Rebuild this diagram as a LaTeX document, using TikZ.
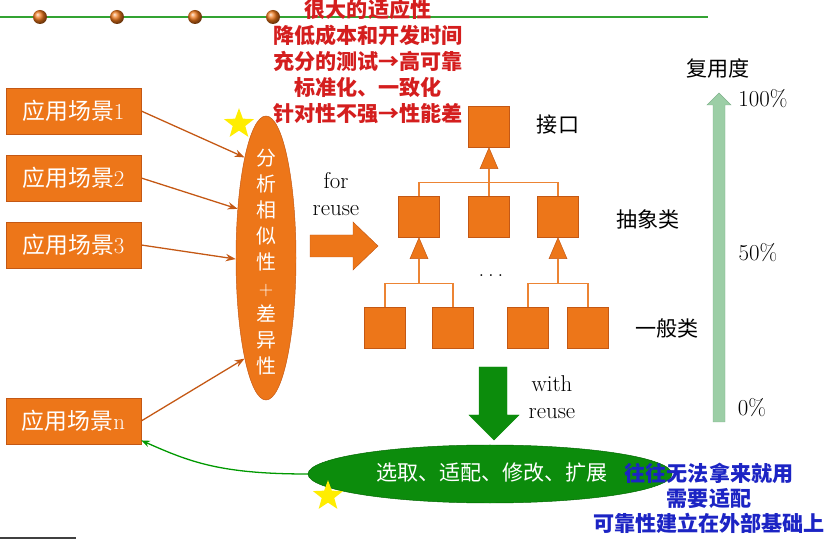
\documentclass[tikz,border=0pt]{standalone}
\usepackage{fontspec}
\newfontfamily\cjk{Noto Sans CJK SC}
\usetikzlibrary{calc,shapes.geometric,arrows.meta}
\definecolor{boxorange}{RGB}{237,118,25}
\definecolor{boxedge}{RGB}{196,88,20}
\definecolor{linkorange}{RGB}{236,132,52}
\definecolor{darkgreen}{RGB}{12,140,12}
\definecolor{palegreen}{RGB}{156,206,166}
\definecolor{paleedge}{RGB}{128,178,140}
\definecolor{redtext}{RGB}{212,30,30}
\definecolor{bluetext}{RGB}{28,36,196}
\def\cjkfont{\cjk\fontsize{18}{22}\selectfont}
\def\latfont{\fontsize{19.5}{22.5}\selectfont}

\begin{document}
\begin{tikzpicture}[x=0.03cm, y=-0.03cm,
    scene/.style={draw=boxedge, fill=boxorange, text=white, minimum width=4.05cm, minimum height=1.38cm, inner sep=0, font=\latfont},
    cls/.style={draw=boxedge, fill=boxorange, minimum size=1.23cm, inner sep=0},
    link/.style={draw=linkorange, line width=1.2pt},
    tri/.style={draw=boxedge, fill=boxorange},
    feed/.style={draw=boxedge, line width=1.1pt, -{Stealth[length=3mm,width=2.2mm]}},
    yellowstar/.style={star, star points=5, star point ratio=2.4, fill=yellow!95!orange, minimum size=0.95cm, inner sep=0},
    lbl/.style={font=\cjkfont}]
    %%%%% START %%%%%
    \useasboundingbox (0,0) rectangle (827,539);

    \draw[draw=green!55!black!80, line width=1pt] (0,17) -- (708,17);
    \foreach \x in {40,117,195,273}
        \shade[ball color=boxorange] (\x,17) circle (0.21cm);

    \node[text=redtext, align=center, font=\cjk\bfseries\fontsize{18}{22.2}\selectfont] (gains) at (368,61)
        {很大的适应性\\降低成本和开发时间\\充分的测试→高可靠\\标准化、一致化\\针对性不强→性能差};

    % application scenarios
    \node[scene] (s1) at (73.5,111) {{\cjk 应用场景}1};
    \node[scene] (s2) at (73.5,178) {{\cjk 应用场景}2};
    \node[scene] (s3) at (73.5,245) {{\cjk 应用场景}3};
    \node[scene] (sn) at (73.5,421) {{\cjk 应用场景}n};

    \node[ellipse, draw=boxedge, fill=boxorange, minimum width=1.8cm, minimum height=8.52cm, inner sep=0] (ana) at (266,258) {};
    \node[text=white, align=center, font=\cjk\fontsize{17}{22.2}\selectfont] (anatext) at (266,262)
        {分\\析\\相\\似\\性\\{\rmfamily +}\\差\\异\\性};
    \node[yellowstar] (star1) at (239,124) {};

    \draw[feed] (s1.east) -- (ana.102);
    \draw[feed] (s2.east) -- (ana.120);
    \draw[feed] (s3.east) -- (ana.182);
    \draw[feed] (sn.east) -- (ana.258);

    % for reuse
    \node[font=\latfont, align=center] (forreuse) at (336,194) {for\\reuse};
    \draw[draw=boxedge, fill=boxorange] (310,235) -- (353,235) -- (353,222) -- (378,246)
        -- (353,270) -- (353,257) -- (310,257) -- cycle;

    % class hierarchy
    \node[cls] (ifc) at (489,127) {};
    \node[cls] (m1) at (419,217) {};
    \node[cls] (m2) at (489,217) {};
    \node[cls] (m3) at (558,217) {};
    \node[cls] (b1) at (385,328) {};
    \node[cls] (b2) at (453,328) {};
    \node[cls] (b3) at (528,328) {};
    \node[cls] (b4) at (588,328) {};

    \draw[link] (m1.north) -- ++(0,-14) -| (m3.north);
    \draw[link] (m2.north) -- ($(ifc.south)+(0,21)$);
    \draw[link] (b1.north) -- ++(0,-24) -| (b2.north);
    \draw[link] (b3.north) -- ++(0,-24) -| (b4.north);
    \draw[link] ($(m1.south)+(0,21)$) -- ($(m1.south)+(0,46)$);
    \draw[link] ($(m3.south)+(0,21)$) -- ($(m3.south)+(0,46)$);
    \foreach \n in {ifc,m1,m3}
        \draw[tri] (\n.south) -- ++(-9,21) -- ++(18,0) -- cycle;

    \node[font=\latfont] (dots) at (491,276) {.\,.\,.};
    \node[lbl] (lifc) at (558,125) {接口};
    \node[lbl] (labs) at (648,219) {抽象类};
    \node[lbl] (lgen) at (667,328) {一般类};

    % reuse scale
    \draw[draw=paleedge, fill=palegreen] (713,422) -- (725,422) -- (725,105) -- (731,105)
        -- (719,93) -- (707,105) -- (713,105) -- cycle;
    \node[lbl] (lscale) at (718,68) {复用度};
    \node[font=\latfont] (p100) at (763,99) {100\%};
    \node[font=\latfont] (p50) at (758,253) {50\%};
    \node[font=\latfont] (p0) at (752,408) {0\%};

    % with reuse
    \draw[draw=darkgreen, fill=darkgreen] (479,367) -- (507,367) -- (507,415) -- (519,415)
        -- (494,440) -- (469,415) -- (479,415) -- cycle;
    \node[font=\latfont, align=center] (withreuse) at (552,397) {with\\reuse};

    \node[ellipse, draw=green!40!black, fill=darkgreen, minimum width=10.92cm, minimum height=1.74cm, inner sep=0] (adapt) at (490,474) {};
    \node[text=white, font=\cjkfont] (adapttext) at (492,473) {选取、适配、修改、扩展};
    \node[yellowstar] (star2) at (328,496) {};

    \draw[draw=green!60!black, line width=1.1pt, -{Stealth[length=2.6mm,width=2mm]}]
        (adapt.west) .. controls (220,474) and (190,462) .. (sn.-16);

    \node[text=bluetext, align=center, font=\cjk\bfseries\fontsize{18}{21.3}\selectfont] (issues) at (709,498)
        {往往无法拿来就用\\需要适配\\可靠性建立在外部基础上};

    \draw[line width=1.5pt, black!75] (0,538) -- (76,538);
    %%%%% END %%%%%
\end{tikzpicture}
\end{document}
